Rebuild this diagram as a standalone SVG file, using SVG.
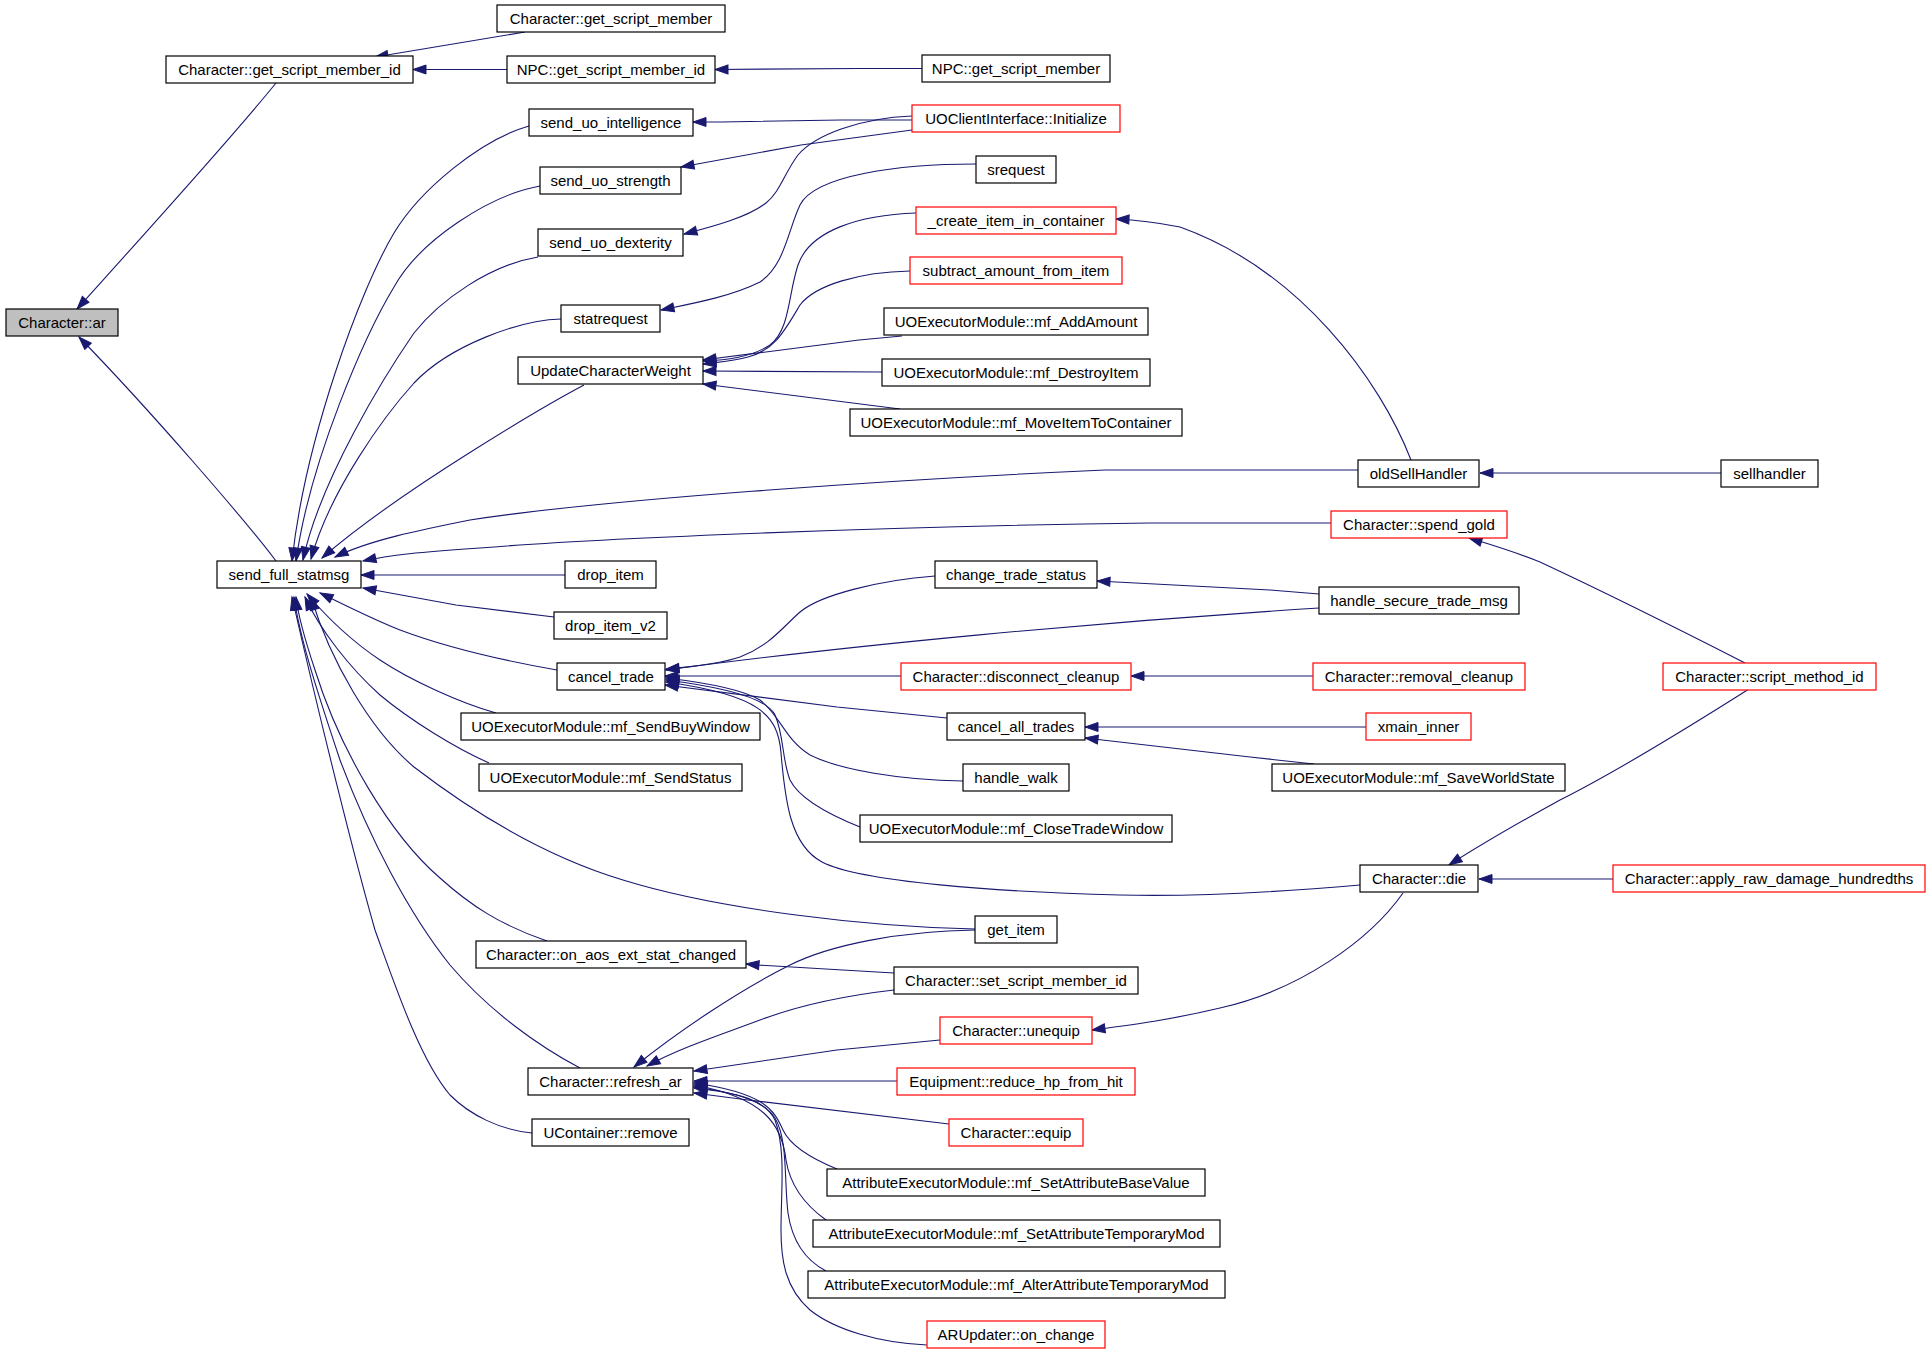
<svg xmlns="http://www.w3.org/2000/svg" width="1931" height="1353" viewBox="0 0 1931 1353">
<style>
.node rect{fill:#ffffff;stroke:#000000;stroke-width:1.2}
.node.red rect{stroke:#ff0000}
.node.cur rect{fill:#bfbfbf}
.node text{font-family:"Liberation Sans",Arial,sans-serif;font-size:15px;fill:#000000;text-anchor:middle}
.edges path{fill:none;stroke:#191970;stroke-width:1.1;marker-end:url(#ah)}
</style>
<defs>
<marker id="ah" markerWidth="14" markerHeight="10" refX="13" refY="4.5" orient="auto" markerUnits="userSpaceOnUse" overflow="visible">
<path d="M0,0 L13,4.5 L0,9 z" fill="#191970" stroke="#191970" stroke-width="1"/>
</marker>
</defs>
<rect x="0" y="0" width="1931" height="1353" fill="#ffffff"/>
<g class="edges">
<path d="M276,83 C 230,140 130,250 77,309"/>
<path d="M276,561 C 245,520 150,410 79,337"/>
<path d="M525,32 L375,57"/>
<path d="M507,69.5 L413,69.5"/>
<path d="M922,68.5 L857,68.5 L715,69.5"/>
<path d="M912,120 L841,120 L721,122 L693,122"/>
<path d="M912,130 L801,145 L681,167"/>
<path d="M912,116 C 860,118 815,135 798,155 C 785,172 780,192 766,203 C 748,217 715,226 684,234"/>
<path d="M976,164 C 900,164 815,175 800,205 C 788,230 785,265 760,282 C 730,297 690,304 661,310"/>
<path d="M916,213 C 860,215 810,230 798,265 C 788,295 790,330 770,345 C 750,358 725,360 703,361"/>
<path d="M910,271 C 860,272 815,285 800,305 C 785,330 775,350 748,357 C 735,361 720,362 703,364"/>
<path d="M902,336 L859,340 L703,360"/>
<path d="M882,372 L703,371"/>
<path d="M900,409 L703,384"/>
<path d="M1411,460 C 1380,380 1300,270 1180,227 C 1160,223 1140,220 1116,219"/>
<path d="M1721,473 L1480,473"/>
<path d="M1358,470 L1105,470 C 880,480 600,500 470,520 C 420,530 370,540 335,557"/>
<path d="M1331,523 L1150,523 C 900,526 600,538 480,548 C 420,552 390,555 363,561"/>
<path d="M529,126 C 480,140 420,190 394,233 C 360,290 305,440 292,561"/>
<path d="M540,186 C 490,195 420,240 394,287 C 365,335 310,460 296,561"/>
<path d="M538,257 C 490,265 440,300 414,333 C 385,375 320,480 303,560"/>
<path d="M561,319 C 520,320 450,345 414,383 C 385,415 330,490 311,559"/>
<path d="M584,385 C 550,403 400,490 322,558"/>
<path d="M565,575 L361,575"/>
<path d="M554,617 L456,605 L363,588"/>
<path d="M557,670 C 500,660 440,645 400,630 C 370,618 345,605 320,593"/>
<path d="M496,713 C 460,703 410,680 380,660 C 350,640 325,615 307,594"/>
<path d="M489,763 C 455,748 410,720 380,695 C 350,668 320,630 305,597"/>
<path d="M975,929 C 870,927 720,910 623,880 C 540,855 470,810 414,767 C 370,730 330,660 311,597"/>
<path d="M547,941 C 500,925 470,905 440,878 C 390,835 340,750 315,670 C 305,640 298,615 296,597"/>
<path d="M580,1068 C 540,1047 490,1012 450,965 C 410,915 370,840 340,760 C 320,700 300,640 294,597"/>
<path d="M532,1133 C 500,1130 470,1115 450,1095 C 420,1060 395,985 375,930 C 355,860 320,720 292,597"/>
<path d="M935,576 C 880,580 820,595 800,612 C 780,630 770,645 740,657 C 720,664 690,667 666,669"/>
<path d="M1319,608 C 1100,622 850,645 666,670"/>
<path d="M901,676 L665,676"/>
<path d="M947,718 L837,707 L665,685"/>
<path d="M963,781 C 900,780 840,770 810,755 C 785,740 780,715 760,700 C 740,688 700,682 666,678"/>
<path d="M860,827 C 830,815 800,800 790,780 C 782,760 784,735 775,715 C 768,700 730,688 666,680"/>
<path d="M1360,885 C 1280,892 1200,897 1120,895 C 1000,892 860,882 822,862 C 790,845 785,800 781,753 C 778,715 760,695 666,682"/>
<path d="M1319,594 L1270,590 L1097,581"/>
<path d="M1313,676 L1131,676"/>
<path d="M1366,727 L1085,727"/>
<path d="M1314,764 L1250,757 L1085,738"/>
<path d="M1745,663 C 1700,640 1600,590 1540,562 C 1510,550 1485,543 1469,538"/>
<path d="M1749,689 C 1700,720 1620,770 1560,800 C 1520,822 1480,845 1449,865"/>
<path d="M1613,879 L1479,879"/>
<path d="M1403,893 C 1370,940 1300,990 1220,1008 C 1170,1020 1130,1025 1092,1030"/>
<path d="M975,930 C 900,931 830,945 790,965 C 740,990 680,1030 634,1067"/>
<path d="M894,973 L757,965 L746,964"/>
<path d="M894,990 C 850,995 800,1005 760,1020 C 720,1035 680,1048 647,1066"/>
<path d="M940,1040 L837,1050 L694,1071"/>
<path d="M897,1081 L694,1081"/>
<path d="M949,1124 L748,1100 L694,1093"/>
<path d="M837,1169 C 810,1158 790,1145 783,1130 C 774,1110 765,1093 694,1083"/>
<path d="M826,1220 C 805,1205 790,1185 786,1160 C 782,1125 765,1098 694,1085"/>
<path d="M826,1271 C 805,1260 792,1240 788,1213 C 784,1180 788,1140 775,1118 C 765,1102 740,1093 694,1087"/>
<path d="M927,1345 C 880,1343 835,1330 810,1310 C 785,1288 781,1260 781,1230 C 781,1190 786,1150 775,1120 C 765,1100 740,1093 694,1088"/>
</g>
<g id="n_ar" class="node cur"><rect x="6" y="309" width="112" height="27"/><text x="62" y="327.5">Character::ar</text></g>
<g id="n_gsmid" class="node"><rect x="166" y="56" width="247" height="27"/><text x="289.5" y="74.5">Character::get_script_member_id</text></g>
<g id="n_gsm" class="node"><rect x="497" y="5" width="228" height="27"/><text x="611" y="23.5">Character::get_script_member</text></g>
<g id="n_npcgsmid" class="node"><rect x="507" y="56" width="208" height="27"/><text x="611" y="74.5">NPC::get_script_member_id</text></g>
<g id="n_npcgsm" class="node"><rect x="922" y="55" width="188" height="27"/><text x="1016" y="73.5">NPC::get_script_member</text></g>
<g id="n_int" class="node"><rect x="529" y="109" width="164" height="27"/><text x="611" y="127.5">send_uo_intelligence</text></g>
<g id="n_init" class="node red"><rect x="912" y="105" width="208" height="27"/><text x="1016" y="123.5">UOClientInterface::Initialize</text></g>
<g id="n_str" class="node"><rect x="540" y="167" width="141" height="27"/><text x="610.5" y="185.5">send_uo_strength</text></g>
<g id="n_sreq" class="node"><rect x="976" y="156" width="80" height="27"/><text x="1016" y="174.5">srequest</text></g>
<g id="n_dex" class="node"><rect x="538" y="229" width="145" height="27"/><text x="610.5" y="247.5">send_uo_dexterity</text></g>
<g id="n_create" class="node red"><rect x="916" y="207" width="200" height="27"/><text x="1016" y="225.5">_create_item_in_container</text></g>
<g id="n_subtract" class="node red"><rect x="910" y="257" width="212" height="27"/><text x="1016" y="275.5">subtract_amount_from_item</text></g>
<g id="n_statreq" class="node"><rect x="561" y="305" width="99" height="27"/><text x="610.5" y="323.5">statrequest</text></g>
<g id="n_addamt" class="node"><rect x="884" y="308" width="264" height="27"/><text x="1016" y="326.5">UOExecutorModule::mf_AddAmount</text></g>
<g id="n_ucw" class="node"><rect x="518" y="357" width="185" height="27"/><text x="610.5" y="375.5">UpdateCharacterWeight</text></g>
<g id="n_destroy" class="node"><rect x="882" y="359" width="268" height="27"/><text x="1016" y="377.5">UOExecutorModule::mf_DestroyItem</text></g>
<g id="n_move" class="node"><rect x="850" y="409" width="332" height="27"/><text x="1016" y="427.5">UOExecutorModule::mf_MoveItemToContainer</text></g>
<g id="n_oldsell" class="node"><rect x="1358" y="460" width="121" height="27"/><text x="1418.5" y="478.5">oldSellHandler</text></g>
<g id="n_sell" class="node"><rect x="1721" y="460" width="97" height="27"/><text x="1769.5" y="478.5">sellhandler</text></g>
<g id="n_spend" class="node red"><rect x="1331" y="511" width="176" height="27"/><text x="1419" y="529.5">Character::spend_gold</text></g>
<g id="n_sfs" class="node"><rect x="217" y="561" width="144" height="27"/><text x="289" y="579.5">send_full_statmsg</text></g>
<g id="n_drop" class="node"><rect x="565" y="561" width="91" height="27"/><text x="610.5" y="579.5">drop_item</text></g>
<g id="n_cts" class="node"><rect x="935" y="561" width="162" height="27"/><text x="1016" y="579.5">change_trade_status</text></g>
<g id="n_hstm" class="node"><rect x="1319" y="587" width="200" height="27"/><text x="1419" y="605.5">handle_secure_trade_msg</text></g>
<g id="n_dropv2" class="node"><rect x="554" y="612" width="113" height="27"/><text x="610.5" y="630.5">drop_item_v2</text></g>
<g id="n_ct" class="node"><rect x="557" y="663" width="108" height="27"/><text x="611" y="681.5">cancel_trade</text></g>
<g id="n_dc" class="node red"><rect x="901" y="663" width="230" height="27"/><text x="1016" y="681.5">Character::disconnect_cleanup</text></g>
<g id="n_rc" class="node red"><rect x="1313" y="663" width="212" height="27"/><text x="1419" y="681.5">Character::removal_cleanup</text></g>
<g id="n_smi" class="node red"><rect x="1663" y="663" width="213" height="27"/><text x="1769.5" y="681.5">Character::script_method_id</text></g>
<g id="n_sbw" class="node"><rect x="461" y="713" width="299" height="27"/><text x="610.5" y="731.5">UOExecutorModule::mf_SendBuyWindow</text></g>
<g id="n_cat" class="node"><rect x="947" y="713" width="138" height="27"/><text x="1016" y="731.5">cancel_all_trades</text></g>
<g id="n_xmain" class="node red"><rect x="1366" y="713" width="105" height="27"/><text x="1418.5" y="731.5">xmain_inner</text></g>
<g id="n_ss" class="node"><rect x="479" y="764" width="263" height="27"/><text x="610.5" y="782.5">UOExecutorModule::mf_SendStatus</text></g>
<g id="n_hw" class="node"><rect x="963" y="764" width="106" height="27"/><text x="1016" y="782.5">handle_walk</text></g>
<g id="n_sws" class="node"><rect x="1272" y="764" width="293" height="27"/><text x="1418.5" y="782.5">UOExecutorModule::mf_SaveWorldState</text></g>
<g id="n_ctw" class="node"><rect x="860" y="815" width="312" height="27"/><text x="1016" y="833.5">UOExecutorModule::mf_CloseTradeWindow</text></g>
<g id="n_die" class="node"><rect x="1360" y="865" width="118" height="27"/><text x="1419" y="883.5">Character::die</text></g>
<g id="n_ard" class="node red"><rect x="1613" y="865" width="312" height="27"/><text x="1769" y="883.5">Character::apply_raw_damage_hundredths</text></g>
<g id="n_getitem" class="node"><rect x="975" y="916" width="82" height="27"/><text x="1016" y="934.5">get_item</text></g>
<g id="n_aos" class="node"><rect x="476" y="941" width="270" height="27"/><text x="611" y="959.5">Character::on_aos_ext_stat_changed</text></g>
<g id="n_ssmid" class="node"><rect x="894" y="967" width="244" height="27"/><text x="1016" y="985.5">Character::set_script_member_id</text></g>
<g id="n_unequip" class="node red"><rect x="940" y="1017" width="152" height="27"/><text x="1016" y="1035.5">Character::unequip</text></g>
<g id="n_refresh" class="node"><rect x="528" y="1068" width="165" height="27"/><text x="610.5" y="1086.5">Character::refresh_ar</text></g>
<g id="n_rhp" class="node red"><rect x="897" y="1068" width="238" height="27"/><text x="1016" y="1086.5">Equipment::reduce_hp_from_hit</text></g>
<g id="n_remove" class="node"><rect x="532" y="1119" width="157" height="27"/><text x="610.5" y="1137.5">UContainer::remove</text></g>
<g id="n_equip" class="node red"><rect x="949" y="1119" width="134" height="27"/><text x="1016" y="1137.5">Character::equip</text></g>
<g id="n_sabv" class="node"><rect x="827" y="1169" width="378" height="27"/><text x="1016" y="1187.5">AttributeExecutorModule::mf_SetAttributeBaseValue</text></g>
<g id="n_satm" class="node"><rect x="813" y="1220" width="407" height="27"/><text x="1016.5" y="1238.5">AttributeExecutorModule::mf_SetAttributeTemporaryMod</text></g>
<g id="n_aatm" class="node"><rect x="808" y="1271" width="417" height="27"/><text x="1016.5" y="1289.5">AttributeExecutorModule::mf_AlterAttributeTemporaryMod</text></g>
<g id="n_aru" class="node red"><rect x="927" y="1321" width="178" height="27"/><text x="1016" y="1339.5">ARUpdater::on_change</text></g>
</svg>
